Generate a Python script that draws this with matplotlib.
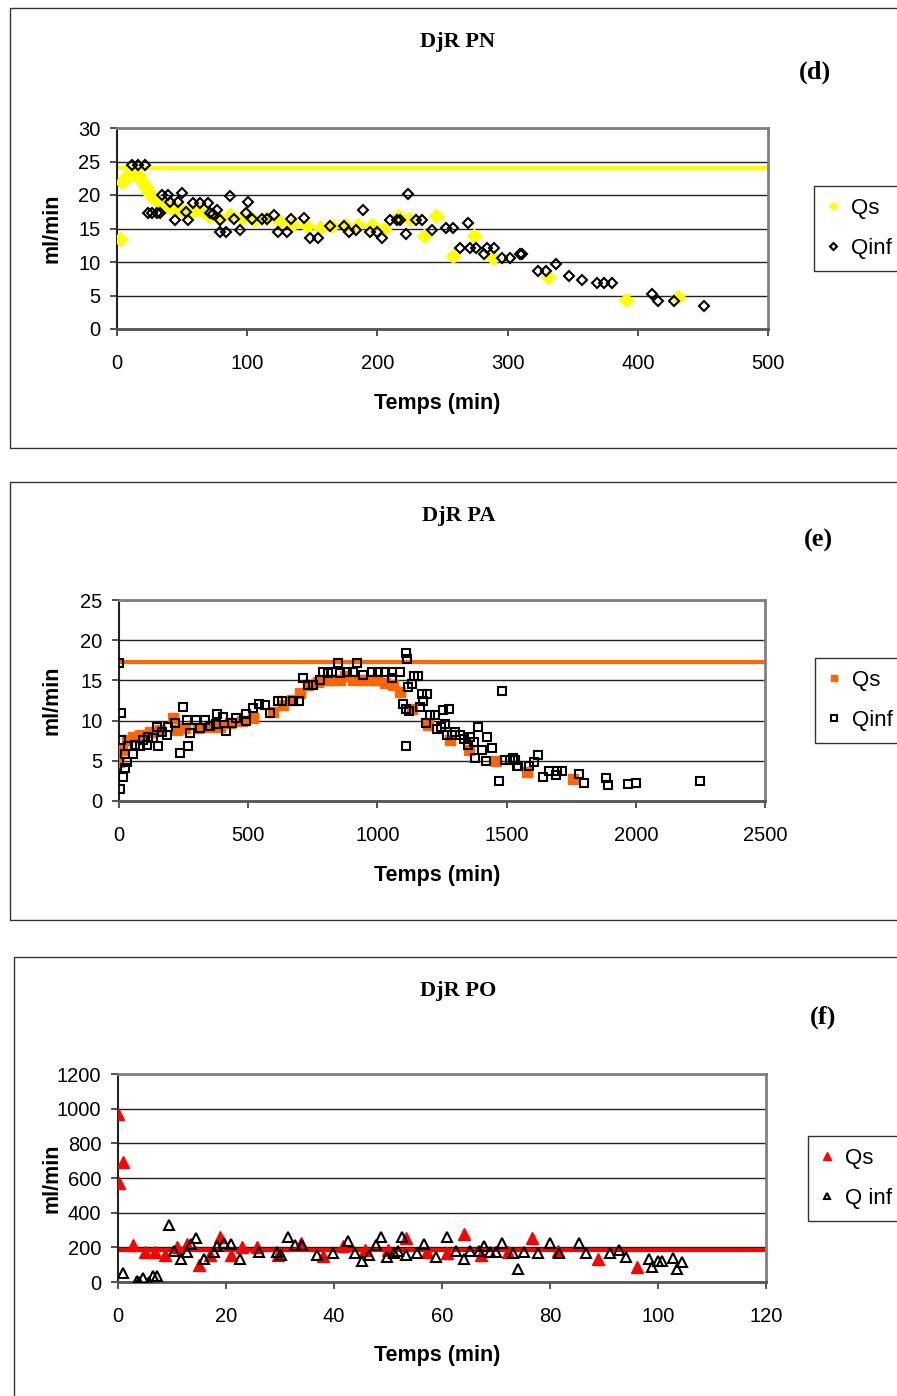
import matplotlib
matplotlib.use('Agg')
import matplotlib.pyplot as plt
from matplotlib.patches import Rectangle

# ---- data (d) DjR PN ----
qs_pn_t = [2, 4, 6, 8, 10, 12, 14, 16, 18, 20, 22, 24, 26, 28, 30, 32, 35, 38, 42, 46, 50, 54,
           58, 64, 71, 78, 87, 96, 105, 115, 125, 135, 146, 156, 165, 175, 185, 196, 205, 216,
           224, 236, 245, 258, 274, 289, 331, 391, 431]
qs_pn_v = [13.5, 22.0, 22.5, 22.8, 23.0, 23.2, 23.3, 23.0, 22.5, 21.8, 21.0, 20.5, 20.0, 19.6,
           19.3, 19.0, 18.6, 18.4, 18.0, 17.9, 17.7, 17.5, 17.6, 17.8, 16.8, 16.6, 17.0, 16.5,
           16.3, 16.5, 15.9, 15.6, 15.4, 15.1, 15.4, 15.5, 15.5, 15.5, 14.9, 16.8, 16.4, 13.9,
           16.9, 10.9, 13.9, 10.6, 7.8, 4.3, 4.8]
qs_pn_max = 24.0
qinf_pn_t = [11.5, 16, 21.5, 24, 27, 31, 33, 34.6, 39, 41, 44.5, 47, 50, 53, 54.5, 58, 64, 70,
             71.5, 74, 77, 79, 79, 84, 87, 90, 94.5, 100.5, 99, 104, 111, 115, 120.5, 124, 130.5,
             134, 144, 148, 154.5, 163.5, 174, 178, 183.5, 189, 194, 199.5, 203.5, 209.5, 215,
             217, 222, 223.5, 230, 234, 242, 253, 258, 269.5, 263.5, 271, 276, 282, 284, 289.5,
             296, 302, 309.5, 311, 323, 329.5, 337, 347, 357, 368.5, 374, 380, 411, 415.5, 428,
             451]
qinf_pn_v = [24.5, 24.5, 24.5, 17.3, 17.3, 17.3, 17.3, 20.0, 20.0, 19.0, 16.3, 19.0, 20.3, 17.5,
             16.3, 18.8, 18.8, 18.8, 17.3, 17.2, 17.8, 16.3, 14.5, 14.5, 19.9, 16.4, 14.8, 19.0,
             17.3, 16.4, 16.4, 16.4, 17.0, 14.5, 14.5, 16.4, 16.6, 13.6, 13.6, 15.4, 15.4, 14.5,
             14.8, 17.8, 14.5, 14.5, 13.6, 16.3, 16.3, 16.3, 14.2, 20.1, 16.3, 16.3, 14.8, 15.1,
             15.1, 15.8, 12.1, 12.1, 12.1, 11.2, 12.1, 12.1, 10.6, 10.6, 11.2, 11.2, 8.6, 8.6,
             9.7, 7.9, 7.3, 6.9, 6.9, 6.9, 5.2, 4.2, 4.2, 3.4]

# ---- data (e) DjR PA ----
qs_pa_t = [0, 10, 30, 55, 81, 120, 159, 209, 223, 255, 306, 352, 391, 430, 475, 519, 596, 635,
           669, 700, 733, 770, 809, 817, 855, 875, 906, 939, 971, 999, 1029, 1061, 1087, 1133,
           1196, 1281, 1355, 1459, 1579, 1757]
qs_pa_v = [4.9, 6.3, 7.6, 8.0, 8.2, 8.6, 8.8, 10.3, 8.8, 9.1, 9.1, 9.2, 9.2, 9.7, 9.9, 10.3,
           11.1, 11.9, 12.6, 13.4, 14.4, 14.8, 15.0, 15.0, 15.1, 15.5, 15.1, 15.1, 15.0, 15.0,
           14.7, 14.4, 13.5, 11.5, 9.5, 7.6, 6.3, 5.0, 3.6, 2.7]
qs_pa_max = 17.3
qinf_pa_t = [0, 8, 8, 23, 30, 23, 16, 4, 35, 54, 62, 81, 93, 107, 112, 132, 146, 151, 165, 184,
             189, 217, 236, 246, 267, 275, 263, 298, 313, 333, 352, 378, 375, 403, 414, 436, 453,
             491, 491, 519, 542, 565, 584, 615, 630, 673, 697, 711, 733, 749, 778, 790, 809, 824,
             848, 855, 881, 906, 920, 943, 978, 1002, 1029, 1055, 1087, 1055, 1111, 1115, 1118,
             1133, 1142, 1158, 1099, 1111, 1122, 1111, 1171, 1192, 1176, 1165, 1190, 1203, 1223,
             1229, 1248, 1262, 1254, 1277, 1268, 1287, 1300, 1320, 1335, 1358, 1351, 1374, 1388,
             1404, 1378, 1419, 1424, 1442, 1481, 1471, 1494, 1513, 1532, 1544, 1525, 1540, 1587,
             1606, 1622, 1641, 1664, 1691, 1694, 1715, 1781, 1800, 1885, 1891, 1969, 2000, 2249]
qinf_pa_v = [17.2, 11.0, 7.6, 5.9, 4.9, 4.1, 3.0, 1.5, 6.8, 5.9, 7.0, 6.8, 7.6, 7.0, 8.0, 7.8,
             9.2, 6.8, 8.6, 8.2, 9.2, 9.7, 6.0, 11.7, 6.8, 8.5, 10.1, 10.1, 9.1, 10.1, 9.3, 10.8,
             9.6, 10.5, 8.7, 9.7, 10.3, 10.8, 10.0, 11.6, 12.1, 12.0, 11.0, 12.4, 12.4, 12.5,
             12.5, 15.3, 14.4, 14.4, 15.0, 16.1, 15.9, 16.1, 17.2, 15.9, 16.1, 16.1, 17.2, 15.7,
             16.1, 16.1, 16.1, 16.1, 16.1, 15.3, 18.4, 17.7, 14.2, 14.6, 15.5, 15.5, 12.1, 11.4,
             11.2, 6.8, 13.3, 13.3, 12.4, 11.7, 9.7, 10.7, 10.7, 9.0, 9.2, 9.6, 11.3, 11.5, 8.2,
             8.2, 8.6, 8.2, 7.7, 8.0, 7.0, 7.3, 9.2, 6.3, 5.3, 5.0, 8.0, 6.6, 13.7, 2.5, 5.1, 5.1,
             5.1, 4.4, 5.3, 4.3, 4.3, 4.8, 5.7, 3.0, 3.7, 3.2, 3.7, 3.7, 3.3, 2.3, 2.8, 2.0, 2.1,
             2.3, 2.5]

# ---- data (f) DjR PO ----
qs_po_t = [0, 1, 0.25, 2.8, 5, 6.9, 8.7, 10.9, 12.7, 15, 17, 18.8, 21, 22.9, 25.7, 29.7, 33.9,
           38, 41.7, 45.7, 50, 53.3, 57.2, 60.9, 64, 67.3, 72.3, 76.6, 81.5, 88.8, 96.2]
qs_po_v = [970, 690, 570, 213, 175, 175, 157, 203, 222, 97, 157, 262, 157, 203, 203, 157, 227,
           148, 207, 185, 185, 252, 175, 166, 277, 157, 175, 252, 180, 130, 84]
qs_po_mean = 185
qinf_po_t = [1, 3.6, 3.9, 4.7, 5.8, 6.5, 7.3, 9.5, 10.4, 11.7, 12.7, 13.6, 14.4, 15.9, 17.7,
             18.3, 19.6, 21, 22.5, 26.2, 29.4, 30.1, 31.4, 32.8, 34, 36.9, 39.9, 42.5, 43.9,
             45.1, 46.5, 47.8, 48.7, 49.9, 51.1, 51.8, 52.5, 53.3, 55.4, 56.7, 58.8, 61, 62.6,
             64, 65.2, 66.8, 67.7, 68.8, 70, 71.1, 73.2, 74, 75.1, 77.8, 80, 81.7, 85.4, 86.7,
             91.2, 92.8, 94, 98.4, 98.8, 100, 100.7, 102.8, 103.6, 104.4]
qinf_po_v = [54, 5, 0, 21, 0, 35, 35, 330, 180, 130, 175, 222, 252, 130, 175, 207, 227, 220,
             130, 175, 175, 157, 262, 213, 213, 157, 166, 238, 166, 120, 157, 213, 262, 142, 166,
             180, 262, 157, 166, 222, 142, 262, 180, 130, 180, 180, 207, 175, 175, 227, 166, 73,
             175, 166, 227, 166, 227, 166, 166, 185, 142, 130, 84, 120, 120, 136, 73, 115]

W, H = 897, 1396
fig = plt.figure(figsize=(W / 100, H / 100), dpi=100)

sans = 'Liberation Sans'
serif = 'Liberation Serif'


def fx(px):
    return px / W


def fy(py):
    return 1 - py / H


def panel(box, ax_px, title, tag, tpos, tagpos, qs, qinf, hline, color, mk, qs_ms, inf_ms,
          xlim, xstep, ylim, ystep, inf_label, leg_pos, xlab_y, ylab_x):
    # outer frame
    x0, y0, y1 = box
    fig.patches.append(Rectangle((fx(x0), fy(y1)), 1.2, fy(y0) - fy(y1), transform=fig.transFigure,
                                 fill=False, ec='#333333', lw=1.0, clip_on=False))
    l, r, t, b = ax_px
    ax = fig.add_axes([fx(l), fy(b), fx(r) - fx(l), fy(t) - fy(b)])
    ax.axhline(hline, color=color, lw=3, zorder=2)
    ax.plot(qs[0], qs[1], ls='none', marker=mk, ms=qs_ms, color=color, mec=color, zorder=3,
            label='Qs')
    ax.plot(qinf[0], qinf[1], ls='none', marker=mk, ms=inf_ms, mfc='none', mec='black', mew=1.5,
            zorder=4, label=inf_label)
    ax.set_xlim(*xlim)
    ax.set_ylim(*ylim)
    ax.set_xticks(range(xlim[0], xlim[1] + 1, xstep))
    ax.set_yticks(range(ylim[0], ylim[1] + 1, ystep))
    ax.grid(axis='y', color='#222222', lw=1.0, zorder=1)
    ax.set_axisbelow(True)
    for s in ['top', 'right']:
        ax.spines[s].set_color('#808080')
        ax.spines[s].set_linewidth(2)
    ax.spines['left'].set_color('#222222')
    ax.spines['left'].set_linewidth(1.5)
    ax.spines['bottom'].set_color('#555555')
    ax.spines['bottom'].set_linewidth(2)
    ax.tick_params(axis='x', direction='out', length=5, width=1.2, pad=13, labelsize=14.5,
                   color='#333333')
    ax.tick_params(axis='y', direction='out', length=5, width=1.2, pad=7, labelsize=14.5,
                   color='#333333')
    for lab in ax.get_xticklabels() + ax.get_yticklabels():
        lab.set_family(sans)
    fig.text(fx(tpos[0]), fy(tpos[1]), title, ha='center', va='center', family=serif,
             fontweight='bold', fontsize=16)
    fig.text(fx(tagpos[0]), fy(tagpos[1]), tag, ha='center', va='center', family=serif,
             fontweight='bold', fontsize=19)
    fig.text(fx((l + r) / 2 - 5), fy(xlab_y), 'Temps (min)', ha='center', va='center',
             family=sans, fontweight='bold', fontsize=15.5)
    fig.text(fx(ylab_x), fy((t + b) / 2), 'ml/min', ha='center', va='center', rotation=90,
             family=sans, fontweight='bold', fontsize=15.5)
    leg = ax.legend(loc='upper left', bbox_to_anchor=(fx(leg_pos[0]), fy(leg_pos[1])),
                    bbox_transform=fig.transFigure, frameon=True, fancybox=False,
                    edgecolor='black', prop={'family': sans, 'size': 16},
                    markerscale=0.65, handlelength=0.6, handletextpad=0.5, labelspacing=0.85,
                    borderpad=0.55, borderaxespad=0)
    leg.get_frame().set_linewidth(1.0)
    return ax


panel((10, 8, 448), (117, 768, 128, 329), 'DjR PN', '(d)', (457, 42), (815, 72),
      (qs_pn_t, qs_pn_v), (qinf_pn_t, qinf_pn_v), qs_pn_max, '#FFFF00', 'D', 7, 5.5,
      (0, 500), 100, (0, 30), 5, 'Qinf', (814, 186), 404, 52)

panel((10, 482, 920), (119, 765, 600, 801), 'DjR PA', '(e)', (459, 516), (818, 540),
      (qs_pa_t, qs_pa_v), (qinf_pa_t, qinf_pa_v), qs_pa_max, '#FF6600', 's', 6.5, 6,
      (0, 2500), 500, (0, 25), 5, 'Qinf', (815, 658), 876, 52)

panel((14, 957, 1500), (118, 766, 1074, 1282), 'DjR PO', '(f)', (458, 991), (823, 1017),
      (qs_po_t, qs_po_v), (qinf_po_t, qinf_po_v), qs_po_mean, '#FF0000', '^', 8, 7,
      (0, 120), 20, (0, 1200), 200, 'Q inf', (808, 1136), 1356, 52)

fig.savefig('out.png', dpi=100)
